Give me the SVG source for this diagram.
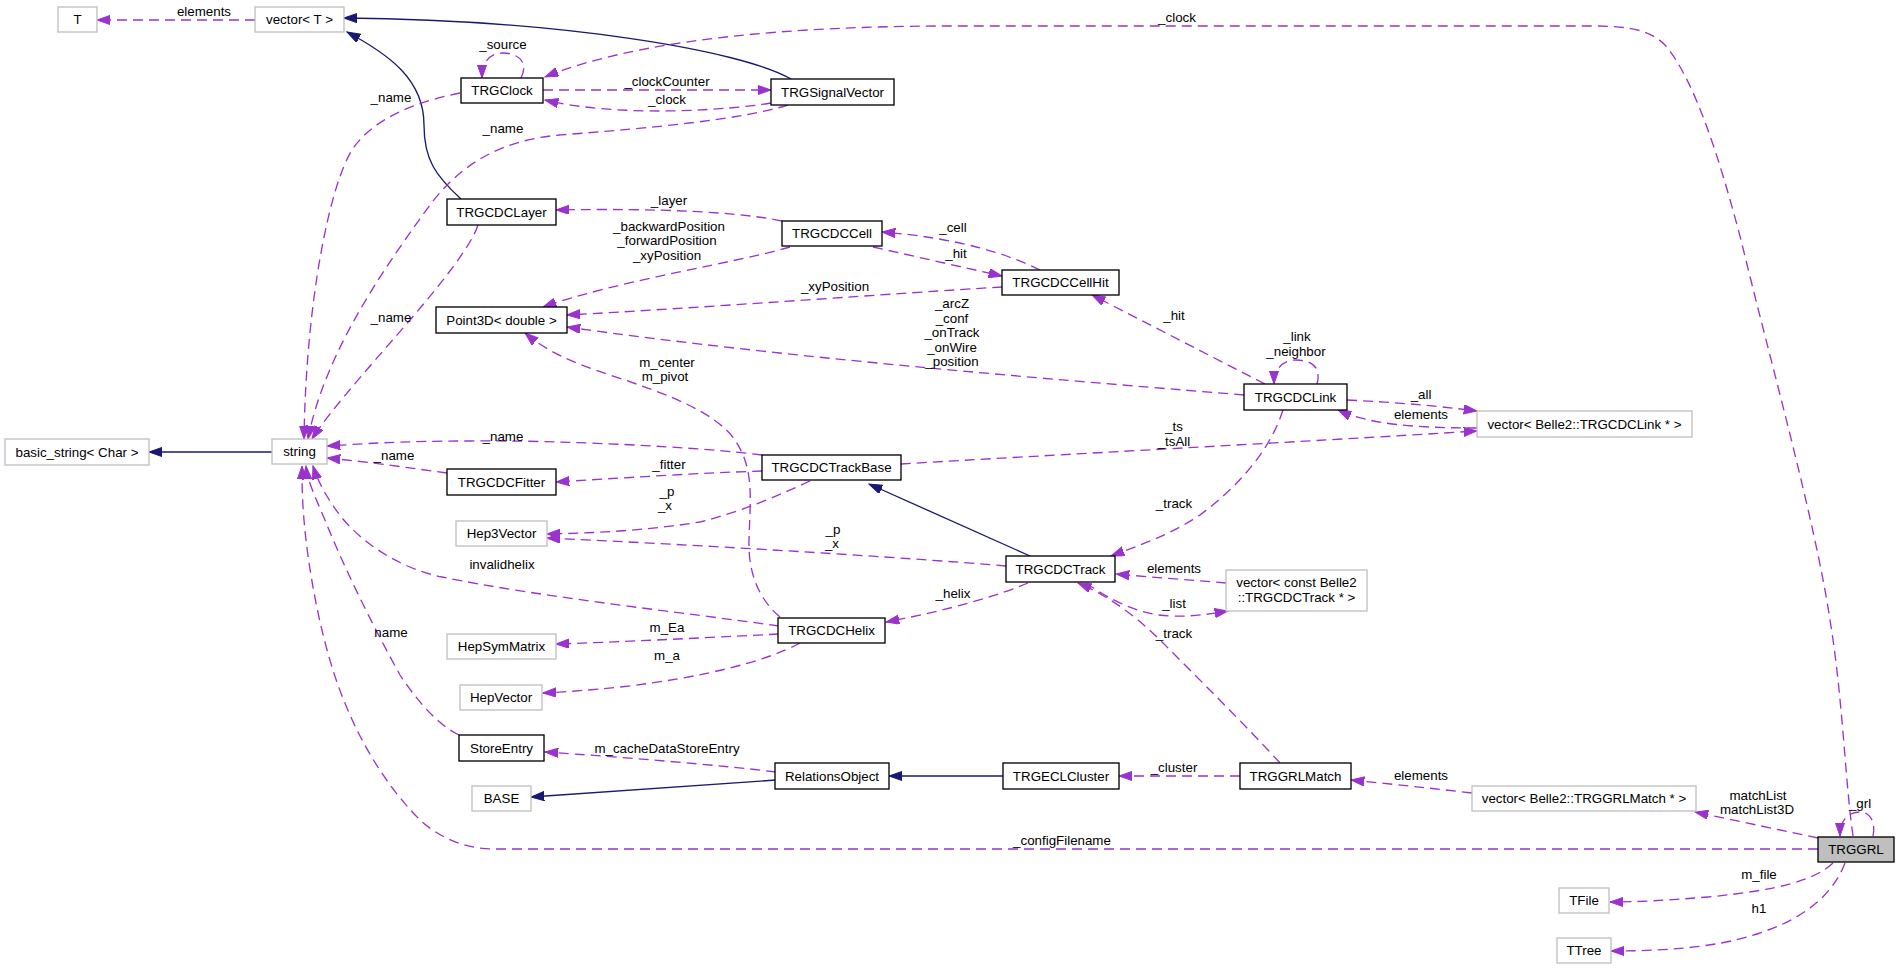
<svg xmlns="http://www.w3.org/2000/svg" width="1900" height="969" viewBox="0 0 1900 969">
<style>
text{font-family:"Liberation Sans",Arial,sans-serif;font-size:13.33px;fill:#000}
.node text{text-anchor:middle}
.node rect{fill:#fff;stroke:#000;stroke-width:1.33}
.node.u rect{stroke:#bfbfbf}
.node.main rect{fill:#bfbfbf;stroke:#000}
.d{fill:none;stroke:#9a32cd;stroke-width:1.33;stroke-dasharray:10,6;marker-end:url(#ap)}
.i{fill:none;stroke:#191970;stroke-width:1.33;marker-end:url(#ab)}
.lbl{text-anchor:middle}
</style>
<defs>
<marker id="ap" markerUnits="userSpaceOnUse" markerWidth="14" markerHeight="10" refX="13.3" refY="4.67" orient="auto"><path d="M0,0 L13.3,4.67 L0,9.33 z" fill="#9a32cd" stroke="#9a32cd" stroke-width="1" stroke-dasharray="none"/></marker>
<marker id="ab" markerUnits="userSpaceOnUse" markerWidth="14" markerHeight="10" refX="13.3" refY="4.67" orient="auto"><path d="M0,0 L13.3,4.67 L0,9.33 z" fill="#191970" stroke="#191970" stroke-width="1"/></marker>
</defs>
<rect width="1900" height="969" fill="#fff"/>
<g id="edges">
<g><path class="d" d="M255,20 L97,20"/><text class="lbl" x="204" y="16">elements</text></g>
<g><path class="i" d="M791,79 C740,50 560,20 344,18"/></g>
<g><path class="i" d="M461,199 C436,176 424,160 424,125 C424,80 390,55 347,32"/></g>
<g><path class="d" d="M521,78 C530,60 515,53 503,53 C490,53 482,62 482,78"/><text class="lbl" x="503" y="49">_source</text></g>
<g><path class="d" d="M543,90 L771,90"/><text class="lbl" x="667" y="86">_clockCounter</text></g>
<g><path class="d" d="M771,103 C730,110 620,118 545,100"/><text class="lbl" x="667" y="104">_clock</text></g>
<g><path class="d" d="M1853,836 C1845,780 1843,700 1830,620 C1815,520 1770,360 1741,240 C1720,160 1695,80 1665,45 C1650,30 1630,26 1592,26 L950,26 C800,26 640,38 545,77"/><text class="lbl" x="1177" y="22">_clock</text></g>
<g><path class="d" d="M1873,836 C1876,822 1870,812 1860,812 C1848,812 1840,820 1840,836"/><text class="lbl" x="1860" y="808">_grl</text></g>
<g><path class="d" d="M478,225 C472,245 440,285 410,320 C380,355 330,410 312,439"/><text class="lbl" x="391" y="322">_name</text></g>
<g><path class="d" d="M460,93 C425,100 375,115 352,150 C330,185 306,300 304,439"/><text class="lbl" x="391" y="102">_name</text></g>
<g><path class="d" d="M788,105 C740,120 650,128 560,135 C500,140 460,165 430,205 C390,260 325,350 308,439"/><text class="lbl" x="503" y="133">_name</text></g>
<g><path class="d" d="M782,221 C740,212 660,208 556,210"/><text class="lbl" x="669" y="205">_layer</text></g>
<g><path class="d" d="M790,247 C740,262 620,280 543,307"/><text class="lbl" x="669" y="231">_backwardPosition</text><text class="lbl" x="667" y="245">_forwardPosition</text><text class="lbl" x="667" y="260">_xyPosition</text></g>
<g><path class="d" d="M873,247 L1002,276"/><text class="lbl" x="956" y="258">_hit</text></g>
<g><path class="d" d="M1040,270 C1010,255 960,238 882,232"/><text class="lbl" x="953" y="232">_cell</text></g>
<g><path class="d" d="M1002,287 C900,293 700,308 567,315"/><text class="lbl" x="835" y="291">_xyPosition</text></g>
<g><path class="d" d="M1244,395 C1100,383 800,360 567,327"/><text class="lbl" x="952" y="308">_arcZ</text><text class="lbl" x="952" y="323">_conf</text><text class="lbl" x="952" y="337">_onTrack</text><text class="lbl" x="952" y="352">_onWire</text><text class="lbl" x="952" y="366">_position</text></g>
<g><path class="d" d="M1265,384 L1092,295"/><text class="lbl" x="1174" y="320">_hit</text></g>
<g><path class="d" d="M1317,384 C1322,366 1310,360 1296,360 C1282,360 1274,370 1274,384"/><text class="lbl" x="1297" y="341">_link</text><text class="lbl" x="1296" y="356">_neighbor</text></g>
<g><path class="d" d="M1347,400 C1390,402 1430,405 1477,411"/><text class="lbl" x="1421" y="399">_all</text></g>
<g><path class="d" d="M1477,428 C1420,428 1370,425 1338,410"/><text class="lbl" x="1421" y="419">elements</text></g>
<g><path class="d" d="M901,464 C1050,455 1300,442 1477,431"/><text class="lbl" x="1174" y="431">_ts</text><text class="lbl" x="1174" y="446">_tsAll</text></g>
<g><path class="d" d="M1283,410 C1270,450 1240,485 1200,515 C1170,535 1140,545 1111,556"/><text class="lbl" x="1174" y="508">_track</text></g>
<g><path class="d" d="M762,455 C700,447 560,440 470,441 C400,441 360,444 327,446"/><text class="lbl" x="503" y="441">_name</text></g>
<g><path class="d" d="M447,473 C410,468 370,462 327,458"/><text class="lbl" x="394" y="460">_name</text></g>
<g><path class="d" d="M762,471 C700,473 620,478 556,482"/><text class="lbl" x="669" y="469">_fitter</text></g>
<g><path class="d" d="M810,481 C780,495 740,512 700,522 C650,530 600,533 547,534"/><text class="lbl" x="667" y="496">_p</text><text class="lbl" x="665" y="510">_x</text></g>
<g><path class="i" d="M1030,556 L869,484"/></g>
<g><path class="d" d="M1006,566 C900,557 700,545 547,538"/><text class="lbl" x="833" y="534">_p</text><text class="lbl" x="832" y="548">_x</text></g>
<g><path class="d" d="M1028,583 C1000,595 950,610 886,622"/><text class="lbl" x="953" y="598">_helix</text></g>
<g><path class="d" d="M1226,583 C1190,580 1150,577 1116,574"/><text class="lbl" x="1174" y="573">elements</text></g>
<g><path class="d" d="M1086,583 C1110,600 1140,615 1170,616 C1195,617 1215,613 1228,611"/><text class="lbl" x="1174" y="608">_list</text></g>
<g><path class="d" d="M1280,763 C1250,730 1200,680 1160,640 C1130,610 1100,592 1078,583"/><text class="lbl" x="1174" y="638">_track</text></g>
<g><path class="d" d="M779,626 C680,612 540,597 442,577 C400,568 365,545 342,518 C328,500 318,482 313,466"/><text class="lbl" x="502" y="569">invalidhelix</text></g>
<g><path class="d" d="M780,617 C760,600 748,575 749,540 C750,500 755,470 735,440 C715,412 670,395 610,375 C570,362 545,350 525,333"/><text class="lbl" x="667" y="367">m_center</text><text class="lbl" x="665" y="381">m_pivot</text></g>
<g><path class="d" d="M779,634 C700,638 620,642 556,644"/><text class="lbl" x="667" y="632">m_Ea</text></g>
<g><path class="d" d="M800,643 C765,662 700,678 620,687 C590,690 565,692 543,693"/><text class="lbl" x="667" y="660">m_a</text></g>
<g><path class="d" d="M459,735 C440,726 420,705 400,675 C375,630 345,570 325,520 C312,490 307,478 306,466"/><text class="lbl" x="391" y="637">name</text></g>
<g><path class="d" d="M776,772 C720,765 620,757 545,752"/><text class="lbl" x="667" y="753">m_cacheDataStoreEntry</text></g>
<g><path class="i" d="M776,780 L531,797"/></g>
<g><path class="i" d="M1003,776 L889,776"/></g>
<g><path class="d" d="M1240,776 L1119,776"/><text class="lbl" x="1174" y="772">_cluster</text></g>
<g><path class="d" d="M1472,793 C1430,788 1390,784 1351,780"/><text class="lbl" x="1421" y="780">elements</text></g>
<g><path class="d" d="M1818,838 L1695,812"/><text class="lbl" x="1758" y="800">matchList</text><text class="lbl" x="1757" y="814">matchList3D</text></g>
<g><path class="d" d="M1818,849 L495,849 C465,849 440,838 420,820 C395,795 370,760 350,715 C325,660 312,590 306,540 C302,505 302,485 302,466"/><text class="lbl" x="1062" y="845">_configFilename</text></g>
<g><path class="d" d="M1833,863 C1815,880 1780,890 1708,897 C1670,900 1640,902 1610,902"/><text class="lbl" x="1759" y="879">m_file</text></g>
<g><path class="d" d="M1845,863 C1835,890 1810,915 1768,930 C1730,945 1680,951 1611,951"/><text class="lbl" x="1759" y="913">h1</text></g>
<g><path class="i" d="M272,452 L149,452"/></g>
</g>
<g id="nodes">
<g id="n_T" class="node u"><rect x="58" y="7" width="39" height="25"/><text x="77.5" y="24">T</text></g>
<g id="n_vectorT" class="node u"><rect x="255" y="7" width="89" height="25"/><text x="299.5" y="24">vector&lt; T &gt;</text></g>
<g id="n_TRGClock" class="node"><rect x="461" y="78" width="82" height="25"/><text x="502" y="95">TRGClock</text></g>
<g id="n_TRGSignalVector" class="node"><rect x="771" y="79" width="123" height="26"/><text x="832.5" y="96.5">TRGSignalVector</text></g>
<g id="n_TRGCDCLayer" class="node"><rect x="447" y="199" width="109" height="26"/><text x="501.5" y="216.5">TRGCDCLayer</text></g>
<g id="n_TRGCDCCell" class="node"><rect x="782" y="221" width="100" height="25"/><text x="832" y="238">TRGCDCCell</text></g>
<g id="n_TRGCDCCellHit" class="node"><rect x="1002" y="270" width="117" height="25"/><text x="1060.5" y="287">TRGCDCCellHit</text></g>
<g id="n_Point3D" class="node"><rect x="436" y="307" width="131" height="26"/><text x="501.5" y="324.5">Point3D&lt; double &gt;</text></g>
<g id="n_string" class="node u"><rect x="272" y="439" width="55" height="25"/><text x="299.5" y="456">string</text></g>
<g id="n_basic_string" class="node u"><rect x="5" y="439" width="144" height="26"/><text x="77" y="456.5">basic_string&lt; Char &gt;</text></g>
<g id="n_TRGCDCFitter" class="node"><rect x="447" y="469" width="109" height="26"/><text x="501.5" y="486.5">TRGCDCFitter</text></g>
<g id="n_TRGCDCTrackBase" class="node"><rect x="762" y="455" width="139" height="25"/><text x="831.5" y="472">TRGCDCTrackBase</text></g>
<g id="n_Hep3Vector" class="node u"><rect x="456" y="521" width="91" height="25"/><text x="501.5" y="538">Hep3Vector</text></g>
<g id="n_TRGCDCHelix" class="node"><rect x="778" y="618" width="107" height="25"/><text x="831.5" y="635">TRGCDCHelix</text></g>
<g id="n_HepSymMatrix" class="node u"><rect x="447" y="634" width="109" height="25"/><text x="501.5" y="651">HepSymMatrix</text></g>
<g id="n_HepVector" class="node u"><rect x="460" y="685" width="82" height="25"/><text x="501" y="702">HepVector</text></g>
<g id="n_StoreEntry" class="node"><rect x="459" y="735" width="85" height="26"/><text x="501.5" y="752.5">StoreEntry</text></g>
<g id="n_BASE" class="node u"><rect x="472" y="786" width="59" height="25"/><text x="501.5" y="803">BASE</text></g>
<g id="n_RelationsObject" class="node"><rect x="775" y="763" width="114" height="26"/><text x="832" y="780.5">RelationsObject</text></g>
<g id="n_TRGCDCLink" class="node"><rect x="1244" y="384" width="103" height="26"/><text x="1295.5" y="401.5">TRGCDCLink</text></g>
<g id="n_vecLink" class="node u"><rect x="1477" y="411" width="215" height="26"/><text x="1584.5" y="428.5">vector&lt; Belle2::TRGCDCLink * &gt;</text></g>
<g id="n_TRGCDCTrack" class="node"><rect x="1006" y="556" width="109" height="26"/><text x="1060.5" y="573.5">TRGCDCTrack</text></g>
<g id="n_vecConstTrack" class="node u"><rect x="1226" y="570" width="141" height="41"/><text x="1296.5" y="587">vector&lt; const Belle2</text><text x="1296.5" y="601.5">::TRGCDCTrack * &gt;</text></g>
<g id="n_TRGECLCluster" class="node"><rect x="1003" y="763" width="116" height="26"/><text x="1061" y="780.5">TRGECLCluster</text></g>
<g id="n_TRGGRLMatch" class="node"><rect x="1240" y="763" width="111" height="26"/><text x="1295.5" y="780.5">TRGGRLMatch</text></g>
<g id="n_vecGRLMatch" class="node u"><rect x="1472" y="786" width="224" height="25"/><text x="1584" y="803">vector&lt; Belle2::TRGGRLMatch * &gt;</text></g>
<g id="n_TRGGRL" class="node main"><rect x="1818" y="837" width="76" height="25"/><text x="1856" y="854">TRGGRL</text></g>
<g id="n_TFile" class="node u"><rect x="1559" y="888" width="50" height="25"/><text x="1584" y="905">TFile</text></g>
<g id="n_TTree" class="node u"><rect x="1557" y="938" width="54" height="25"/><text x="1584" y="955">TTree</text></g>
</g>
</svg>
